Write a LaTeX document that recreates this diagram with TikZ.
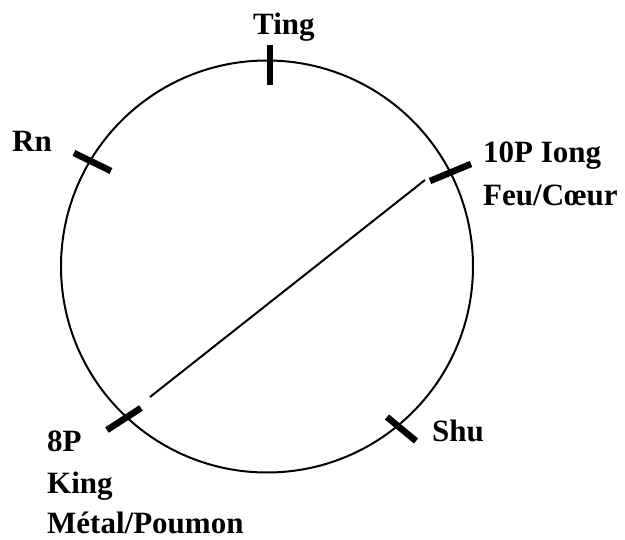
\documentclass[tikz,border=0pt]{standalone}
\usepackage{fontspec}
\setmainfont{Liberation Serif}
\begin{document}
\begin{tikzpicture}[x=1pt,y=-1pt,
  lbl/.style={anchor=base west,inner sep=0pt,font=\fontsize{31}{36}\selectfont\bfseries},
  tickmark/.style={line width=6.5pt},
  rim/.style={line width=2pt}]
\useasboundingbox (0,0) rectangle (625,540);
\coordinate (c) at (267,266.5);
\draw[rim] (c) circle [radius=206pt];
% ticks
\coordinate (tingA) at (270,45);  \coordinate (tingB) at (270,85);
\coordinate (rnA) at (74,153);    \coordinate (rnB) at (111,171);
\coordinate (fA) at (430,181);    \coordinate (fB) at (471,164);
\coordinate (mA) at (107,430);    \coordinate (mB) at (141,408);
\coordinate (sA) at (387,417);    \coordinate (sB) at (416,441);
\draw[tickmark] (tingA) -- (tingB);
\draw[tickmark] (rnA) -- (rnB);
\draw[tickmark] (fA) -- (fB);
\draw[tickmark] (mA) -- (mB);
\draw[tickmark] (sA) -- (sB);
% diameter
\coordinate (d1) at (150,397);
\coordinate (d2) at (425,180);
\draw[rim] (d1) -- (d2);
% labels
\node[lbl] (ting) at (253,35) {Ting};
\node[lbl] (rn) at (12,152) {Rn};
\node[lbl] (iong) at (483,163) {10P Iong};
\node[lbl] (feu) at (483,206) {Feu/Cœur};
\node[lbl] (shu) at (432,442) {Shu};
\node[lbl] (p8) at (47,452) {8P};
\node[lbl] (king) at (47,494) {King};
\node[lbl] (metal) at (47,533) {Métal/Poumon};
\end{tikzpicture}
\end{document}
